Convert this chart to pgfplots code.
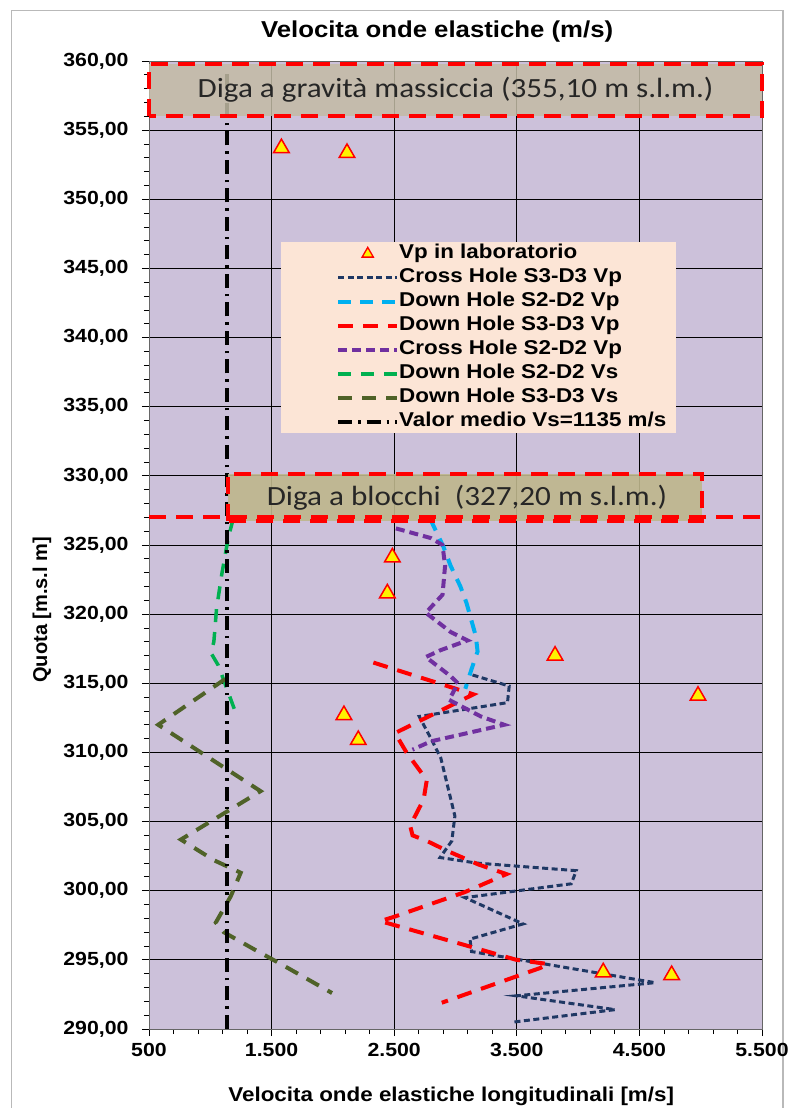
\documentclass[border=0pt]{standalone}
\usepackage{fontspec}
\setmainfont{Liberation Sans}[FakeStretch=1.12]
\newfontfamily\plainsans{Liberation Sans}
\newfontfamily\calib{Carlito}[FakeStretch=1.12]
\usepackage{pgfplots}
\pgfplotsset{compat=1.18}
\definecolor{plotbg}{RGB}{204,193,218}
\definecolor{topbox}{RGB}{195,187,165}
\definecolor{botbox}{RGB}{190,182,140}
\definecolor{legbg}{RGB}{252,229,214}
\definecolor{navy}{RGB}{31,56,100}
\definecolor{ltblue}{RGB}{0,176,240}
\definecolor{purp}{RGB}{112,48,160}
\definecolor{grn}{RGB}{0,176,80}
\definecolor{olivec}{RGB}{79,98,40}
\begin{document}
\begin{tikzpicture}[x=1pt,y=1pt]
\path[use as bounding box] (0,0) rectangle (790,1108);
\draw[gray!55, line width=1.2pt] (11.5,-5) rectangle (783,1097.5);
\begin{axis}[
  at={(149pt,79pt)}, anchor=south west, scale only axis,
  width=613pt, height=968pt,
  xmin=500, xmax=5500, ymin=290, ymax=360,
  clip=false,
  xtick={500,1500,...,5500}, minor x tick num=4,
  ytick={290,295,...,360}, minor y tick num=4,
  grid=major, major grid style={black, line width=0.9pt},
  axis background/.style={fill=plotbg},
  axis line style={black!60, line width=0.8pt},
  tick style={black, line width=0.8pt},
  major tick length=7pt, minor tick length=5pt,
  tick align=outside, xtick pos=left, ytick pos=left,
  /pgf/number format/assume math mode=true,
  yticklabel style={font=\bfseries\fontsize{19}{22}\selectfont, xshift=-10pt,
    /pgf/number format/.cd, fixed, fixed zerofill, precision=2, use comma, 1000 sep={}},
  xticklabel style={font=\bfseries\fontsize{19}{22}\selectfont, yshift=-4pt,
    /pgf/number format/.cd, fixed, precision=0, 1000 sep={.}},
  title={Velocita onde elastiche (m/s)},
  title style={font=\bfseries\fontsize{23}{26}\selectfont, at={(axis description cs:0.470,1.0238)}, anchor=center},
  xlabel={Velocita onde elastiche longitudinali [m/s]},
  xlabel style={font=\bfseries\fontsize{20}{22}\selectfont, at={(axis description cs:0.493,0)}, anchor=center, yshift=-67pt},
  ylabel={Quota [m.s.l m]},
  ylabel style={font=\plainsans\bfseries\fontsize{20}{22}\selectfont, at={(axis description cs:-0.1746,0.433)}, anchor=center, rotate=0},
  legend style={at={(axis cs:1577,346.9)}, anchor=north west, fill=legbg, draw=none,
    font=\bfseries\fontsize{20}{22}\selectfont, inner xsep=10pt, inner ysep=3pt,
    row sep=7pt, nodes={inner sep=0pt, text height=13.5pt, text depth=3.5pt},
    /tikz/every even column/.style={column sep=4pt}},
  legend cell align=left,
  legend image code/.code={\path (0pt,0pt); \draw[mark repeat=2,mark phase=2,#1] plot coordinates {(45pt,0pt)(74.5pt,0pt)(104pt,0pt)};},
]
\addlegendimage{only marks, mark=triangle*, mark size=6.5pt, mark options={fill=yellow, draw=red, line width=1.3pt, solid}}
\addlegendentry{Vp in laboratorio}

\addplot[navy, line width=3pt, dash pattern=on 6pt off 3.5pt] coordinates {
(3139,315.6) (3438,314.8) (3424,313.6) (2704,312.6) (2800,311.0) (2880,309.6)
(2995,305.4) (2970,303.6) (2874,302.4) (3172,302.0) (3985,301.45) (3944,300.5)
(3077,299.5) (3551,297.6) (3118,296.5) (3131,295.6) (4628,293.35) (3497,292.4)
(4302,291.4) (3470,290.5)};
\addlegendentry{Cross Hole S3-D3 Vp}

\addplot[ltblue, line width=4pt, dash pattern=on 13pt off 9pt] coordinates {
(2793,326.9) (2900,324.9) (2960,323.5) (3040,322.0) (3090,320.8) (3166,318.4)
(3180,317.3) (3130,316.0) (3080,314.6)};
\addlegendentry{Down Hole S2-D2 Vp}

\addplot[red, line width=4pt, dash pattern=on 15pt off 10pt] coordinates {
(2330,316.5) (3146,314.2) (2507,311.4) (2600,310.0) (2766,308.0) (2740,306.6)
(2630,304.7) (2650,304.0) (2766,303.6) (2928,302.9) (3186,301.9) (3416,301.2)
(3077,299.9) (2495,298.1) (2386,297.8) (2467,297.6) (3064,296.1) (3497,295.0)
(3755,294.7) (3687,294.4) (2888,291.9)};
\addlegendentry{Down Hole S3-D3 Vp}

\addplot[purp, line width=4pt, dash pattern=on 9pt off 5pt] coordinates {
(2514,326.2) (2799,325.5) (2894,325.0) (2915,323.5) (2894,321.4) (2758,320.1)
(2962,318.7) (3098,318.1) (2880,317.4) (2758,316.9) (2962,315.5) (3020,315.0)
(2948,313.8) (3207,312.6) (3397,312.0) (2799,310.8) (2649,310.2)};
\addlegendentry{Cross Hole S2-D2 Vp}

\addplot[grn, line width=3.5pt, dash pattern=on 13pt off 10pt] coordinates {
(1187,326.9) (1146,325.5) (1092,322.8) (1051,320.4) (1029,318.0) (1005,317.2)
(1065,316.3) (1119,315.0) (1214,312.7)};
\addlegendentry{Down Hole S2-D2 Vs}

\addplot[olivec, line width=4pt, dash pattern=on 14pt off 10pt] coordinates {
(1120,315.3) (575,312.0) (1410,307.2) (760,303.7) (1031,302.2) (1248,301.3)
(1167,299.6) (1045,297.7) (1110,297.0) (1370,295.7) (1575,294.7) (1993,292.6)};
\addlegendentry{Down Hole S3-D3 Vs}

\addplot[black, line width=4pt, dash pattern=on 14pt off 6pt on 2.5pt off 6pt] coordinates {
(1135,290) (1135,359.2)};
\addlegendentry{Valor medio Vs=1135 m/s}

\addplot[only marks, mark=triangle*, mark size=9pt, mark options={fill=yellow, draw=red, line width=1.5pt}, forget plot] coordinates {
(1580,353.7) (2115,353.35) (2485,324.1) (2444,321.5) (3812,317.0) (4978,314.1)
(2090,312.7) (2207,310.9) (4205,294.1) (4763,293.9)};

% annotation boxes
\fill[topbox, fill opacity=0.85] (axis cs:500,356.05) rectangle (axis cs:5500,359.8);
\draw[red, line width=4pt, dash pattern=on 17pt off 10pt] (axis cs:500,356.05) rectangle (axis cs:5500,359.8);
\node[font=\calib\fontsize{27.8}{30}\selectfont, text=black!85] at (axis cs:3000,357.9) {Diga a gravità massiccia (355,10 m s.l.m.)};

\fill[botbox, fill opacity=0.9] (axis cs:1146,326.7) rectangle (axis cs:5013,330.17);
\draw[red, line width=4pt, dash pattern=on 17pt off 10pt] (axis cs:1146,326.7) rectangle (axis cs:5013,330.17);
\draw[red, line width=4pt, dash pattern=on 17pt off 10pt] (axis cs:500,327.05) -- (axis cs:5500,327.05);
\node[font=\calib\fontsize{27.8}{30}\selectfont, text=black!85] at (axis cs:3094,328.4) {Diga a blocchi\ \ (327,20 m s.l.m.)};
\end{axis}
\end{tikzpicture}
\end{document}
